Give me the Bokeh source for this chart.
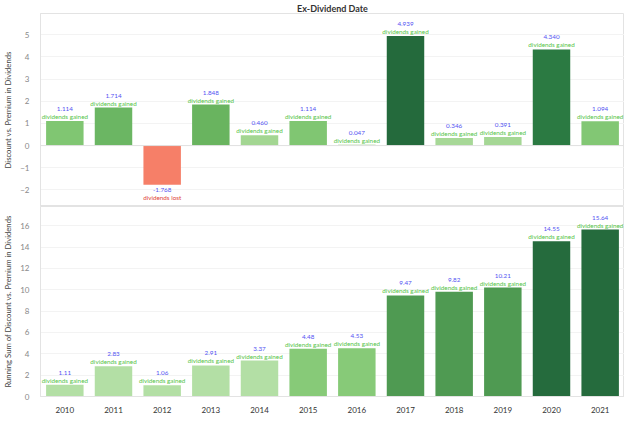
from bokeh.plotting import figure
from bokeh.layouts import column
from bokeh.models import FactorRange, Range1d, FixedTicker, Span, ColumnDataSource, Title
from bokeh.core.properties import value
from bokeh.embed import file_html
from bokeh.resources import INLINE

years = ["2010", "2011", "2012", "2013", "2014", "2015", "2016", "2017", "2018", "2019", "2020", "2021"]
discount = [1.114, 1.714, -1.768, 1.848, 0.460, 1.114, 0.047, 4.939, 0.346, 0.391, 4.340, 1.094]
running = [1.11, 2.83, 1.06, 2.91, 3.37, 4.48, 4.53, 9.47, 9.82, 10.21, 14.55, 15.64]

top_colors = ["#80c672", "#6bb663", "#f67f68", "#69b45f", "#a3d692", "#80c672",
              "#c1e5b3", "#246a3c", "#a7d897", "#a5d795", "#2b7a42", "#82c774"]
bottom_colors = ["#b3dfa5", "#b3dfa5", "#b3dfa5", "#b3dfa5", "#b3dfa5", "#87ca78",
                 "#87ca78", "#4f9a52", "#4f9a52", "#4f9a52", "#256b3d", "#256b3d"]

FONT = "Lato"
BLUE = "#5353f2"
GREEN = "#55c447"
RED = "#e0443a"
W = 624

def style(p, ylabel):
    p.outline_line_color = "#e3e3e3"
    p.xgrid.grid_line_color = None
    p.ygrid.grid_line_color = "#f3f3f3"
    p.yaxis.axis_label = ylabel
    p.yaxis.axis_label_text_font = FONT
    p.yaxis.axis_label_text_font_size = "7.7px"
    p.yaxis.axis_label_text_font_style = "normal"
    p.yaxis.axis_label_text_color = "#444444"
    p.yaxis.axis_label_standoff = 4
    p.yaxis.major_label_text_font = FONT
    p.yaxis.major_label_text_font_size = "8px"
    p.yaxis.major_label_text_color = "#888888"
    p.yaxis.major_tick_line_color = None
    p.yaxis.minor_tick_line_color = None
    p.yaxis.axis_line_color = "#e3e3e3"
    p.yaxis.major_label_standoff = 5
    p.min_border_left = 30
    p.min_border_right = 0
    p.background_fill_color = "white"
    p.border_fill_color = "white"

def labels(p, vals, texts, descs, colors):
    pos = [v >= 0 for v in vals]
    s_val = ColumnDataSource(dict(x=years, y=vals, t=texts,
                                  off=[-12 if q else 5 for q in pos]))
    s_txt = ColumnDataSource(dict(x=years, y=vals, t=descs, c=colors,
                                  off=[-4.5 if q else 12.5 for q in pos]))
    p.text(x="x", y="y", text="t", source=s_val, y_offset="off", text_align="center",
           text_baseline="middle", text_font=value(FONT), text_font_size="6.3px",
           text_color=BLUE)
    p.text(x="x", y="y", text="t", source=s_txt, y_offset="off", text_align="center",
           text_baseline="middle", text_font=value(FONT), text_font_size="6.3px",
           text_color="c")

# top chart
p1 = figure(x_range=FactorRange(*years, range_padding=0), y_range=Range1d(-2.75, 5.96),
            width=W, height=206, output_backend="svg", toolbar_location=None,
            min_border_top=0, min_border_bottom=0)
p1.add_layout(Title(text="Ex-Dividend Date", align="center", text_font=FONT,
                    text_font_size="9px", text_font_style="bold", text_color="#333333",
                    standoff=0, offset=0), "above")
p1.vbar(x=years, top=discount, width=0.77, color=top_colors, line_color=None)
style(p1, "Discount vs. Premium in Dividends")
p1.yaxis.ticker = FixedTicker(ticks=[-2, -1, 0, 1, 2, 3, 4, 5])
p1.xaxis.visible = False
p1.add_layout(Span(location=0, dimension="width", line_color="#e0e0e0", line_width=1))
descs1 = ["dividends gained" if v >= 0 else "dividends lost" for v in discount]
cols1 = [GREEN if v >= 0 else RED for v in discount]
labels(p1, discount, ["%.3f" % v for v in discount], descs1, cols1)

# bottom chart
p2 = figure(x_range=p1.x_range, y_range=Range1d(0, 17.8),
            width=W, height=209, output_backend="svg", toolbar_location=None,
            min_border_top=0, min_border_bottom=0)
p2.vbar(x=years, top=running, width=0.77, color=bottom_colors, line_color=None)
style(p2, "Running Sum of Discount vs. Premium in Dividends")
p2.yaxis.ticker = FixedTicker(ticks=[0, 2, 4, 6, 8, 10, 12, 14, 16])
p2.xaxis.major_label_text_font = FONT
p2.xaxis.major_label_text_font_size = "8px"
p2.xaxis.major_label_text_color = "#333333"
p2.xaxis.major_tick_line_color = None
p2.xaxis.axis_line_color = "#e3e3e3"
p2.xaxis.major_label_standoff = 4
labels(p2, running, ["%.2f" % v for v in running],
       ["dividends gained"] * len(running), [GREEN] * len(running))

layout = column(p1, p2, spacing=0)
open("out.html", "w").write(file_html(layout, INLINE))
